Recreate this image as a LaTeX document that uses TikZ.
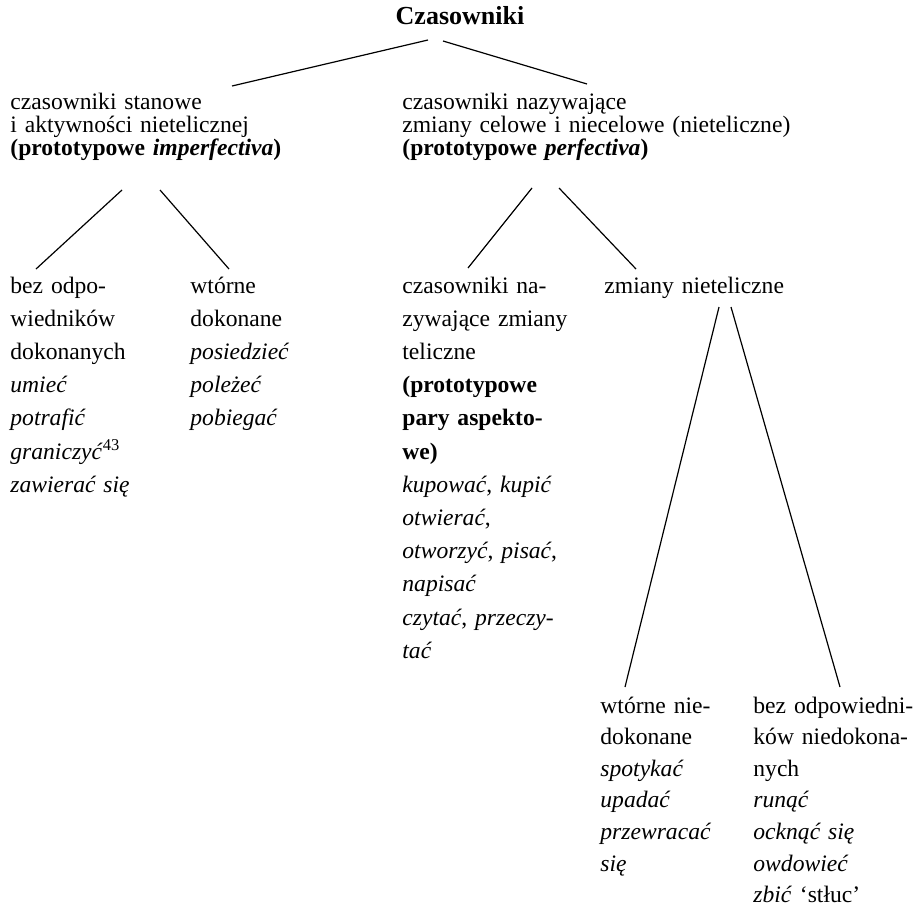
\documentclass[tikz,border=0pt]{standalone}
\usepackage{fontspec}
\setmainfont{Liberation Serif}
\usetikzlibrary{calc}

\begin{document}
\begin{tikzpicture}[
  x=0.5pt, y=-0.5pt, % pixel grid, y runs downwards
  head/.style={font=\fontsize{13}{15}\selectfont\bfseries, inner sep=0pt, anchor=base},
  group/.style={font=\fontsize{11.8}{11.25}\selectfont, align=left, inner sep=0pt,
                anchor=base west, text width=#1},
  leaf/.style={font=\fontsize{11.8}{16.6}\selectfont, align=left, inner sep=0pt,
               anchor=base west, text width=#1},
  low/.style={leaf=#1, font=\fontsize{11.8}{15.8}\selectfont},
  edge/.style={line width=0.6pt},
]
\useasboundingbox (0,0) rectangle (919,915);
\node[head] (top) at (460,25) {Czasowniki};
\node[group=150pt] (stan) at (10,110) {czasowniki stanowe\\ i aktywności nietelicznej\\ \textbf{(prototypowe \textit{imperfectiva})}};
\node[group=220pt] (zmian) at (402,110) {czasowniki nazywające\\ zmiany celowe i niecelowe (nieteliczne)\\ \textbf{(prototypowe \textit{perfectiva})}};
% second level
\node[leaf=70pt] (bezdok) at (10,293) {bez odpo-\\ wiedników\\ dokonanych\\ \textit{umieć}\\ \textit{potrafić}\\ \textit{graniczyć}\textsuperscript{43}\\ \textit{zawierać się}};
\node[leaf=70pt] (wtdok) at (190,293) {wtórne\\ dokonane\\ \textit{posiedzieć}\\ \textit{poleżeć}\\ \textit{pobiegać}};
\node[leaf=95pt] (telic) at (402,293) {czasowniki na-\\ zywające zmiany\\ teliczne\\ \textbf{(prototypowe}\\ \textbf{pary aspekto-}\\ \textbf{we)}\\ \textit{kupować}, \textit{kupić}\\ \textit{otwierać},\\ \textit{otworzyć}, \textit{pisać},\\ \textit{napisać}\\ \textit{czytać}, \textit{przeczy-}\\ \textit{tać}};
\node[leaf=100pt] (ntel) at (604,293) {zmiany nieteliczne};
% third level
\node[low=70pt] (wtndok) at (600,713) {wtórne nie-\\ dokonane\\ \textit{spotykać}\\ \textit{upadać}\\ \textit{przewracać}\\ \textit{się}};
\node[low=85pt] (bezndok) at (753,713) {bez odpowiedni-\\ ków niedokona-\\ nych\\ \textit{runąć}\\ \textit{ocknąć się}\\ \textit{owdowieć}\\ \textit{zbić} ‘stłuc’};
\draw[edge] ($(top.base)+(-32,15)$) -- ($(stan.base west)+(222,-24)$);
\draw[edge] ($(top.base)+(-17,16)$) -- ($(zmian.base west)+(185,-26)$);
\foreach \a/\ax/\ay/\b/\bx/\by in {stan/112/80/bezdok/26/-24, stan/150/80/wtdok/39/-24,
    zmian/130/78/telic/66/-25, zmian/157/78/ntel/32/-24,
    ntel/115/14/wtndok/25/-26, ntel/127/14/bezndok/87/-26}
  \draw[edge] ($(\a.base west)+(\ax,\ay)$) -- ($(\b.base west)+(\bx,\by)$);
\end{tikzpicture}
\end{document}
